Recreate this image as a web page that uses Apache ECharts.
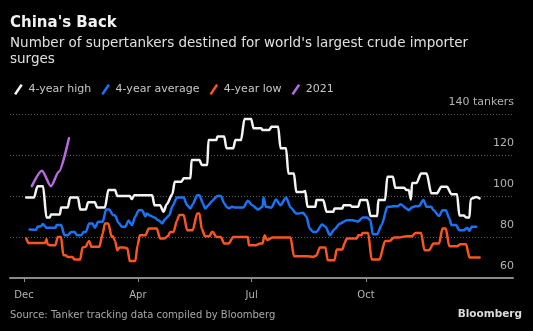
<!DOCTYPE html>
<html>
<head>
<meta charset="utf-8">
<script src="https://cdn.jsdelivr.net/npm/echarts@6/dist/echarts.min.js"></script>
<style>
html,body{margin:0;padding:0;background:#000;}
#chart{width:533px;height:331px;}
</style>
</head>
<body>
<div id="chart"></div>
<script>
// x values: days from the "Dec" tick
const tickDays = [0, 101.3, 202.4, 304];
const tickLabels = ['Dec', 'Apr', 'Jul', 'Oct'];
const yTicks = [60, 80, 100, 120, 140];

const high4y = [[2,99.3],[9,99.3],[12,104.8],[17,104.8],[20,89.5],[23,89.5],[24,91],[32,91],[33,94.4],[39,94.4],[41,99.3],[48,99.3],[50,93.4],[55,93.4],[57,96.9],[63,96.9],[65,94.4],[72,94.4],[75,102.9],[81,102.9],[83,100],[94,100],[96,98.5],[98,100.4],[114,100.4],[116,95.5],[121,95.5],[124,92.3],[127,96],[132,101],[134,107],[140,107],[142,108.6],[148,108.6],[149,117.6],[156,117.6],[158,115.1],[163,115.1],[164,127.3],[171,127.3],[172,129],[178,129],[180,123.3],[186,123.3],[188,127.3],[193,127.3],[196,137.6],[202,137.6],[204,133],[211,133],[212,132.2],[218,132.2],[220,133.8],[226,133.8],[228,123.3],[233,123.3],[235,111],[240,111],[242,102],[248,102],[250,102.4],[252,94.7],[259,94.7],[260,98],[266,98],[269,92.3],[275,92.3],[276,93.9],[283,93.9],[284,95.5],[290,95.5],[292,94.7],[297,94.7],[299,98],[305,98],[308,90.2],[314,90.2],[315,98],[321,98],[323,109.4],[328,109.4],[330,104],[338,104],[340,102.9],[342,102.9],[344,98.3],[345,106.4],[349,106.4],[353,111],[358,111],[362,101.3],[367,101.3],[371,104.5],[376,104.5],[380,100.9],[385,100.9],[387,90.5],[391,90.5],[393,89.5],[396,89.5],[397,98],[398,98.8],[402,99.5],[405,98.8]];

const avg4y = [[5,83.7],[11,83.5],[12,85],[15,85.3],[17,86.3],[19,85],[20,84.5],[28,84.5],[29,85.8],[33,85.8],[36,80.9],[39,80.9],[42,82.5],[45,82.5],[47,80.9],[51,80.9],[53,82.5],[55,82.5],[58,86.6],[61,86.6],[63,84.5],[66,87.4],[70,87.4],[73,93.4],[76,93.4],[79,90.7],[81,90.5],[84,87],[87,85],[90,85],[93,88],[96,85.8],[99,90],[102,93.1],[105,93.1],[108,90],[109,91.5],[112,90.5],[116,89.5],[120,88],[123,86.6],[125,88.5],[129,90.5],[132,95],[136,99.3],[142,99.3],[145,95.5],[148,93.9],[150,96],[154,100.4],[156,100.4],[159,96.5],[161,93.9],[164,95.5],[167,97.5],[172,100],[175,100],[178,96.5],[180,94.7],[182,94],[185,94.7],[188,94.4],[195,94.4],[199,97.7],[203,95.5],[208,93.4],[212,94.7],[213,99.3],[215,94.7],[220,94.4],[224,98.3],[228,95.5],[233,99.3],[237,94.4],[242,91.5],[244,91.5],[248,91.8],[251,90],[254,84.1],[257,82.5],[260,82.5],[265,86.1],[268,85],[272,80.9],[276,83.8],[281,86.6],[287,88.2],[292,88.2],[297,87.5],[301,89.5],[305,89.5],[308,88.2],[310,81.4],[314,81.4],[318,86],[323,94.7],[325,94.7],[329,95],[332,95],[335,96],[340,93.9],[342,93.1],[345,94.5],[348,95],[351,95],[355,98],[358,94.7],[362,94.7],[364,93.1],[369,90.2],[372,93.1],[375,93.1],[378,89.2],[380,85.8],[384,85.8],[387,83.3],[391,83.3],[394,84.5],[396,83],[398,85],[402,85]];

const low4y = [[2,79.3],[4,77],[7,77.1],[19,77.1],[20,79],[21,76.5],[23,76],[28,76],[30,80],[33,80],[35,71.1],[37,71.1],[39,70.3],[43,70.3],[45,69],[50,69],[52,74.9],[55,75.2],[57,77.5],[58,78.1],[60,75.2],[67,75.2],[70,81.7],[72,86.6],[75,86.6],[78,80],[79,80.4],[81,78],[83,73.5],[85,74.9],[89,74.9],[92,74.4],[94,68.3],[99,68.3],[101,76],[103,80.9],[108,80.9],[111,84.2],[118,84.2],[121,79.3],[125,79.3],[128,80.5],[130,82.5],[133,82.5],[136,88],[138,90.7],[142,90.7],[145,83.3],[150,83.3],[154,91.5],[156,91.5],[158,84],[161,80.4],[165,80.4],[167,82.5],[168,82.5],[171,80],[175,80],[178,76.8],[182,76.8],[186,80],[199,80],[200,76],[206,76],[210,76.8],[212,76.8],[214,80.9],[216,78.5],[221,79.7],[237,79.7],[240,70.6],[252,70.6],[257,70.3],[260,71],[263,74.9],[268,74.9],[270,68.7],[276,68.7],[278,73.9],[283,73.9],[285,77],[287,79.3],[296,79.3],[297,80.9],[300,80.9],[301,82],[306,82],[309,69],[316,69],[321,78.1],[325,78.1],[329,79.7],[333,79.7],[340,80.4],[345,80.4],[348,82],[353,82],[356,73.5],[360,73.5],[364,76.8],[369,76.8],[372,84.2],[375,84.2],[378,75.5],[385,75.5],[388,76.5],[393,76.5],[396,70],[405,70]];

const y2021 = [[7,104.8],[16,112.3],[24,104.8],[31,111.8],[40,128.2]];

const names = ['4-year high', '4-year average', '4-year low', '2021'];
const colors = ['#f4f4f4', '#1a73f5', '#fa5420', '#b56ae0'];
const seriesData = [high4y, avg4y, low4y, y2021];

const chart = echarts.init(document.getElementById('chart'), null, {renderer: 'canvas'});

const FONT = 'DejaVu Sans';

chart.setOption({
  backgroundColor: '#000',
  animation: false,
  textStyle: {fontFamily: FONT},
  grid: {left: 10, right: 20, top: 114, bottom: 53, containLabel: false},
  legend: {
    left: 9, top: 79,
    itemWidth: 10, itemHeight: 11, itemGap: 10,
    icon: 'path://M0,11L7.5,0L10,1.5L2.5,12.5Z',
    textStyle: {color: '#c8c8c8', fontSize: 11, fontFamily: FONT},
    data: names
  },
  xAxis: {
    type: 'value', min: -12.4, max: 434.7,
    axisLine: {show: true, onZero: false, lineStyle: {color: '#8a8a8a', width: 2}},
    axisTick: {show: true, customValues: tickDays, length: 4, lineStyle: {color: '#8a8a8a', width: 1}},
    axisLabel: {
      customValues: tickDays, color: '#b3b3b3', fontSize: 10, margin: 12, fontFamily: FONT,
      formatter: function (v) {
        let best = 0;
        for (let i = 1; i < tickDays.length; i++) if (Math.abs(tickDays[i] - v) < Math.abs(tickDays[best] - v)) best = i;
        return tickLabels[best];
      }
    },
    splitLine: {show: false}
  },
  yAxis: {
    type: 'value', position: 'right', min: 60, max: 140, interval: 20,
    axisLine: {show: false}, axisTick: {show: false},
    splitLine: {show: true, lineStyle: {color: '#5c5c5c', width: 1, type: [1, 2]}},
    axisLabel: {
      inside: true, margin: -1, color: '#b3b3b3', fontSize: 11, fontFamily: FONT,
      verticalAlign: 'bottom', padding: [0, 0, 6, 0],
      formatter: function (v) { return v === yTicks[yTicks.length - 1] ? v + ' tankers' : String(v); }
    }
  },
  series: seriesData.map(function (d, i) {
    return {
      name: names[i], type: 'line', data: d, showSymbol: false,
      smooth: 0.25, smoothMonotone: 'x',
      color: colors[i],
      lineStyle: {width: 2.5, color: colors[i], join: 'round', cap: 'round'},
      itemStyle: {color: colors[i]},
      z: i === 3 ? 5 : 3
    };
  }),
  graphic: [
    {type: 'text', left: 10, top: 16, style: {text: "China's Back", fill: '#f2f2f2', font: 'bold 15px "' + FONT + '"'}},
    {type: 'text', left: 10, top: 35, style: {text: "Number of supertankers destined for world's largest crude importer\nsurges", fill: '#e0e0e0', font: '13.5px "' + FONT + '"', lineHeight: 16}},
    {type: 'text', left: 10, top: 310, style: {text: 'Source: Tanker tracking data compiled by Bloomberg', fill: '#a8a8a8', font: '10px "' + FONT + '"'}},
    {type: 'text', right: 11, top: 309, style: {text: 'Bloomberg', fill: '#dcdcdc', font: 'bold 10.5px "' + FONT + '"'}}
  ]
});
</script>
</body>
</html>
